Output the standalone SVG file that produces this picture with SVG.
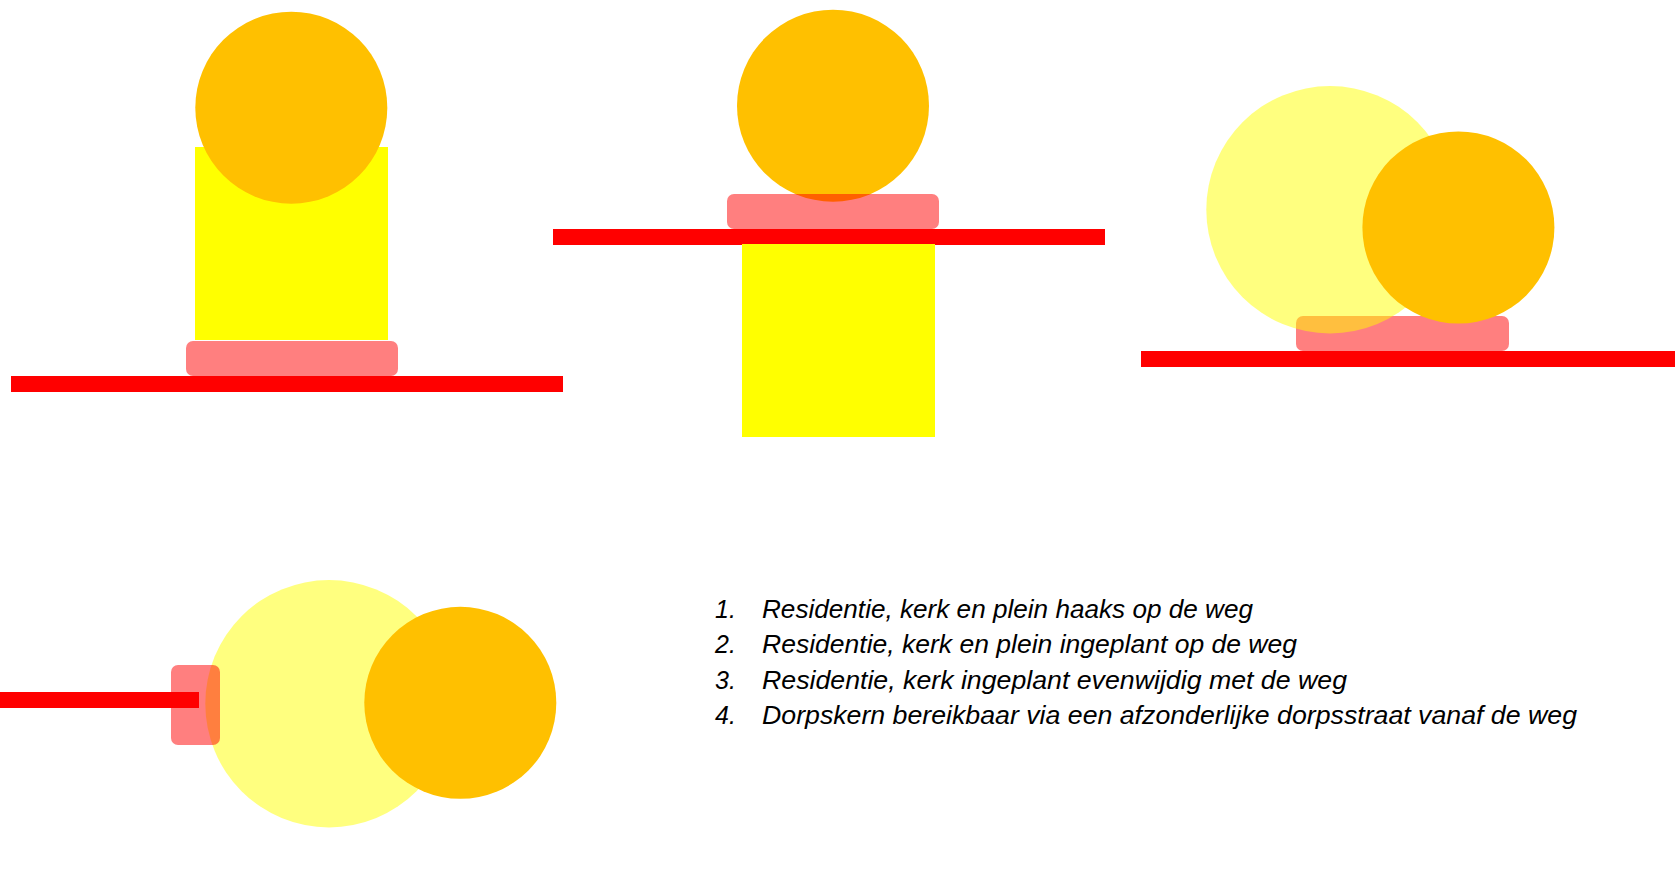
<svg xmlns="http://www.w3.org/2000/svg" width="1675" height="870" viewBox="0 0 1675 870">
<style>
.road{fill:#FF0000}
.plein{fill:#FF0000;fill-opacity:0.5}
.kerk{fill:#FFC000}
.res{fill:#FFFF00}
.resl{fill:#FFFF00;fill-opacity:0.5}
.lbl{font-family:"Liberation Sans",Arial,sans-serif;font-style:italic;font-size:25px;fill:#000000}
</style>
<rect width="1675" height="870" fill="#FFFFFF"/>
<g id="variant1">
<rect class="res" x="195" y="147" width="193" height="193"/>
<circle class="kerk" cx="291.3" cy="107.7" r="96"/>
<rect class="plein" x="186" y="341" width="212" height="35" rx="7"/>
<rect class="road" x="11" y="376" width="552" height="16"/>
</g>
<g id="variant2">
<circle class="kerk" cx="833" cy="105.7" r="96"/>
<rect class="plein" x="727" y="194" width="212" height="35" rx="7"/>
<rect class="road" x="553" y="229" width="552" height="16"/>
<rect class="res" x="742" y="244" width="193" height="193"/>
</g>
<g id="variant3">
<rect class="plein" x="1296" y="316" width="213" height="35" rx="7"/>
<circle class="resl" cx="1330" cy="209.7" r="123.7"/>
<circle class="kerk" cx="1458.4" cy="227.5" r="96"/>
<rect class="road" x="1141" y="351" width="552" height="16"/>
</g>
<g id="variant4">
<circle class="resl" cx="329" cy="703.7" r="123.7"/>
<circle class="kerk" cx="460.3" cy="702.8" r="96"/>
<rect class="plein" x="171" y="665" width="49" height="80" rx="7"/>
<rect class="road" x="0" y="692" width="199" height="16"/>
</g>
<g id="legend">
<text class="lbl" x="715" y="617.7">1.</text>
<text class="lbl" x="762" y="617.7" textLength="491" lengthAdjust="spacingAndGlyphs">Residentie, kerk en plein haaks op de weg</text>
<text class="lbl" x="715" y="653.2">2.</text>
<text class="lbl" x="762" y="653.2" textLength="535" lengthAdjust="spacingAndGlyphs">Residentie, kerk en plein ingeplant op de weg</text>
<text class="lbl" x="715" y="688.8">3.</text>
<text class="lbl" x="762" y="688.8" textLength="585" lengthAdjust="spacingAndGlyphs">Residentie, kerk ingeplant evenwijdig met de weg</text>
<text class="lbl" x="715" y="724.3">4.</text>
<text class="lbl" x="762" y="724.3" textLength="815" lengthAdjust="spacingAndGlyphs">Dorpskern bereikbaar via een afzonderlijke dorpsstraat vanaf de weg</text>
</g>
<g id="connectors"></g>
</svg>
